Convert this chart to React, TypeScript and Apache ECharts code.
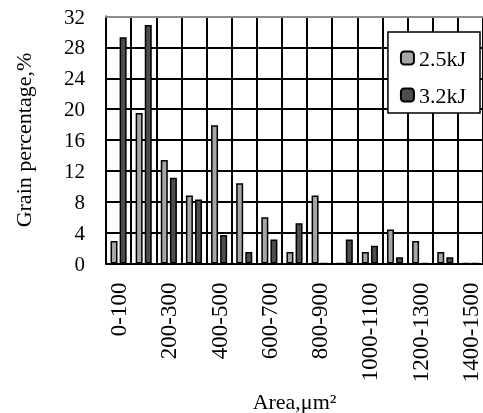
import React, { useEffect, useRef } from "react";
import * as echarts from "echarts";

const categories = [
  "0-100", "100-200", "200-300", "300-400", "400-500", "500-600", "600-700",
  "700-800", "800-900", "900-1000", "1000-1100", "1100-1200", "1200-1300",
  "1300-1400", "1400-1500",
];
const series25 = [2.9, 19.5, 13.4, 8.8, 17.9, 10.4, 6.0, 1.5, 8.8, 0, 1.5, 4.4, 2.9, 1.5, 0];
const series32 = [29.3, 30.9, 11.1, 8.3, 3.7, 1.5, 3.1, 5.2, 0, 3.1, 2.3, 0.8, 0, 0.8, 0];
const yTicks = { min: 0, max: 32, interval: 4 };
const FONT = "'Liberation Serif', 'Times New Roman', serif";

export default function App() {
  const ref = useRef<HTMLDivElement>(null);
  useEffect(() => {
    if (!ref.current) return;
    const chart = echarts.init(ref.current, null, { renderer: "svg" });
    chart.setOption({
      animation: false,
      textStyle: { fontFamily: FONT, color: "#000" },
      grid: { left: 106, top: 16.5, right: 0, bottom: 149.5, containLabel: false, outerBoundsMode: "none" },
      legend: {
        orient: "vertical", right: 3, top: 32, backgroundColor: "#fff", borderColor: "#000", borderWidth: 1.5,
        padding: [15, 14, 7, 12], itemWidth: 13, itemHeight: 13, itemGap: 15,
        textStyle: { fontFamily: FONT, fontSize: 22, color: "#000" }, data: ["2.5kJ", "3.2kJ"],
      },
      xAxis: [
        {
          type: "category", data: categories, boundaryGap: true,
          name: "Area,μm²", nameLocation: "middle", nameGap: 121,
          nameTextStyle: { fontFamily: FONT, fontSize: 22, color: "#000" },
          axisLine: { show: true, lineStyle: { color: "#000", width: 2 } },
          axisTick: { show: false },
          axisLabel: { interval: 1, rotate: 90, margin: 19, fontFamily: FONT, fontSize: 23, color: "#000" },
          splitLine: { show: true, interval: 0, lineStyle: { color: "#000", width: 2 } },
        },
        {
          type: "category", data: categories, position: "top", boundaryGap: true,
          axisLine: { show: true, lineStyle: { color: "#8c8c8c", width: 2 } },
          axisTick: { show: false },
          axisLabel: { show: false },
          splitLine: { show: false },
        },
      ],
      yAxis: {
        type: "value", min: yTicks.min, max: yTicks.max, interval: yTicks.interval,
        name: "Grain percentage,%", nameLocation: "middle", nameGap: 72,
        nameTextStyle: { fontFamily: FONT, fontSize: 22, color: "#000" },
        axisLine: { show: true, lineStyle: { color: "#000", width: 2 } },
        axisTick: { show: false },
        axisLabel: { margin: 21, fontFamily: FONT, fontSize: 21, color: "#000" },
        splitLine: { show: true, lineStyle: { color: "#000", width: 2 } },
      },
      series: [
        { name: "2.5kJ", type: "bar", data: series25, barWidth: 7, barGap: "30%",
          itemStyle: { color: "#a6a6a6", borderColor: "#000", borderWidth: 1.5 } },
        { name: "3.2kJ", type: "bar", data: series32, barWidth: 7, barGap: "30%",
          itemStyle: { color: "#4d4d4d", borderColor: "#000", borderWidth: 1.5 } },
      ],
    });
    return () => chart.dispose();
  }, []);
  return <div ref={ref} style={{ position: "fixed", left: 0, top: 0, width: 483, height: 413 }} />;
}
